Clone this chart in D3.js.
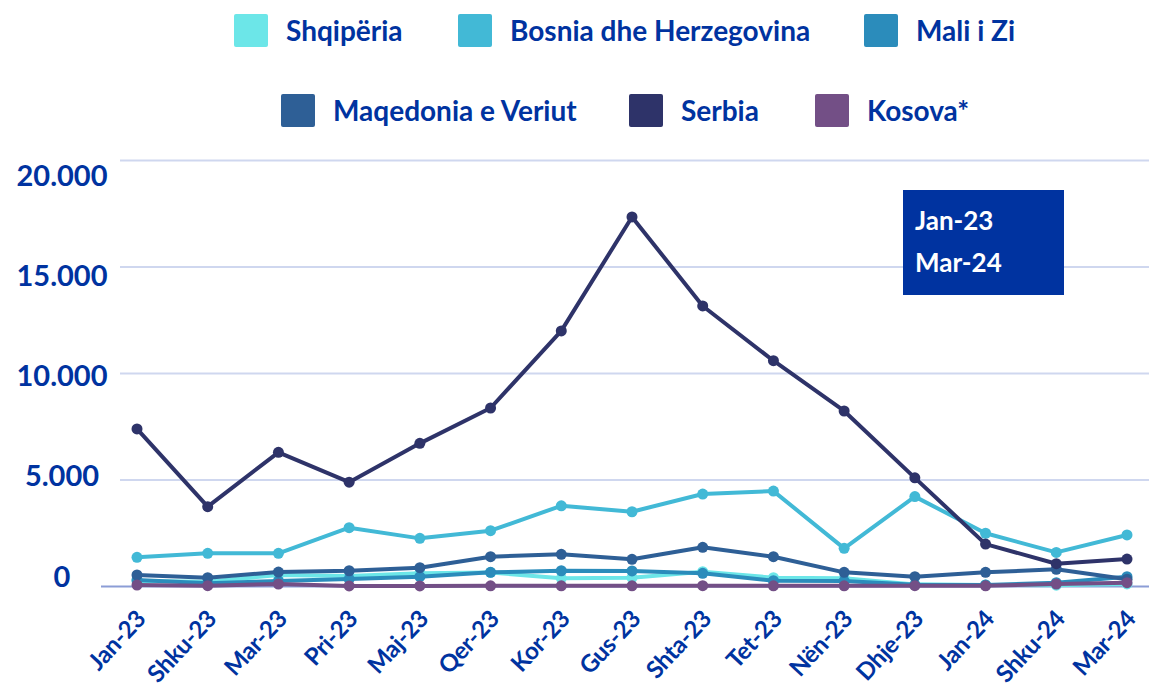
<!DOCTYPE html>
<html>
<head>
<meta charset="utf-8">
<script src="https://cdn.jsdelivr.net/npm/d3@7"></script>
<style>
  html, body { margin: 0; padding: 0; background: #ffffff; }
  svg { display: block; }
  text { font-family: Lato, "Open Sans", sans-serif; font-weight: 700; }
</style>
</head>
<body>
<div id="chart"></div>
<script>
// ---- Data ----
const months = ["Jan-23","Shku-23","Mar-23","Pri-23","Maj-23","Qer-23","Kor-23","Gus-23","Shta-23","Tet-23","Nën-23","Dhje-23","Jan-24","Shku-24","Mar-24"];
const seriesNames = ["Shqipëria","Bosnia dhe Herzegovina","Mali i Zi","Maqedonia e Veriut","Serbia","Kosova*"];
const shqiperia = [260, 225, 540, 490, 620, 660, 385, 415, 695, 415, 385, 100, 70, 60, 120];
const bosnia    = [1370, 1560, 1560, 2760, 2260, 2620, 3790, 3510, 4340, 4480, 1790, 4220, 2500, 1600, 2420];
const maliIZi   = [305, 150, 260, 350, 460, 665, 740, 730, 620, 270, 260, 80, 70, 180, 460];
const maqedonia = [540, 415, 680, 740, 885, 1400, 1510, 1275, 1840, 1400, 665, 460, 665, 810, 340];
const serbia    = [7400, 3750, 6300, 4900, 6720, 8380, 12000, 17350, 13170, 10600, 8240, 5100, 1990, 1070, 1290];
const kosova    = [70, 40, 117, 25, 25, 30, 30, 30, 40, 30, 30, 40, 30, 117, 180];
const yTicks = [0, 5000, 10000, 15000, 20000];
const boxLines = ["Jan-23", "Mar-24"];

const seriesValues = [shqiperia, bosnia, maliIZi, maqedonia, serbia, kosova];
const colors = ["#6ce6e8", "#42b9d6", "#2b8cbb", "#2e5f96", "#2e3369", "#734f86"];
const textColor = "#0033a0";

// ---- Layout ----
const W = 1149, H = 691;
const svg = d3.select("#chart").append("svg").attr("width", W).attr("height", H);

const x = d3.scalePoint().domain(months).range([137, 1127]);
const y = d3.scaleLinear().domain([0, 20000]).range([586.5, 160.5]);
// label placement scale (labels in the reference are spaced slightly differently from gridlines)
const yLab = d3.scaleLinear().domain([0, 20000]).range([575, 174]);

// gridlines
svg.append("g")
  .selectAll("line")
  .data(yTicks.filter(d => d > 0))
  .join("line")
  .attr("x1", 120).attr("x2", W)
  .attr("y1", d => y(d)).attr("y2", d => y(d))
  .attr("stroke", "#cfd7ef").attr("stroke-width", 2);

// baseline
svg.append("line")
  .attr("x1", 101).attr("x2", W)
  .attr("y1", y(0)).attr("y2", y(0))
  .attr("stroke", "#8c9dd6").attr("stroke-width", 2);

// y labels
const fmt = d => d3.format(",")(d).replace(/,/g, ".");
svg.append("g")
  .selectAll("text")
  .data(yTicks)
  .join("text")
  .attr("x", 62)
  .attr("y", d => yLab(d))
  .attr("text-anchor", "middle")
  .attr("dominant-baseline", "central")
  .attr("font-size", 29)
  .attr("fill", textColor)
  .text(fmt);

// x labels
svg.append("g")
  .selectAll("text")
  .data(months)
  .join("text")
  .attr("transform", d => `translate(${x(d) + 10},${620}) rotate(-47)`)
  .attr("text-anchor", "end")
  .attr("font-size", 24)
  .attr("letter-spacing", -0.3)
  .attr("fill", textColor)
  .text(d => d);

// lines
const line = d3.line().x((d, i) => x(months[i])).y(d => y(d));
seriesValues.forEach((vals, si) => {
  const g = svg.append("g");
  g.append("path")
    .datum(vals)
    .attr("d", line)
    .attr("fill", "none")
    .attr("stroke", colors[si])
    .attr("stroke-width", 4)
    .attr("stroke-linejoin", "round");
  g.selectAll("circle")
    .data(vals)
    .join("circle")
    .attr("cx", (d, i) => x(months[i]))
    .attr("cy", d => y(d))
    .attr("r", 5.5)
    .attr("fill", colors[si]);
});

// date box
const box = svg.append("g");
box.append("rect")
  .attr("x", 903).attr("y", 190).attr("width", 161).attr("height", 105)
  .attr("fill", "#0033a0");
box.selectAll("text")
  .data(boxLines)
  .join("text")
  .attr("x", 915)
  .attr("y", (d, i) => 230 + i * 42)
  .attr("font-size", 26)
  .attr("fill", "#ffffff")
  .text(d => d);

// legend
const legendPos = [
  {sx: 234, ty: 30}, {sx: 458, ty: 30}, {sx: 864, ty: 30},
  {sx: 281, ty: 110}, {sx: 629, ty: 110}, {sx: 815, ty: 110}
];
const leg = svg.append("g");
seriesNames.forEach((name, i) => {
  const p = legendPos[i];
  leg.append("rect")
    .attr("x", p.sx).attr("y", p.ty - 16)
    .attr("width", 34).attr("height", 33).attr("rx", 2)
    .attr("fill", colors[i]);
  leg.append("text")
    .attr("x", p.sx + 52).attr("y", p.ty)
    .attr("dominant-baseline", "central")
    .attr("font-size", 28)
    .attr("fill", textColor)
    .text(name);
});
</script>
</body>
</html>
